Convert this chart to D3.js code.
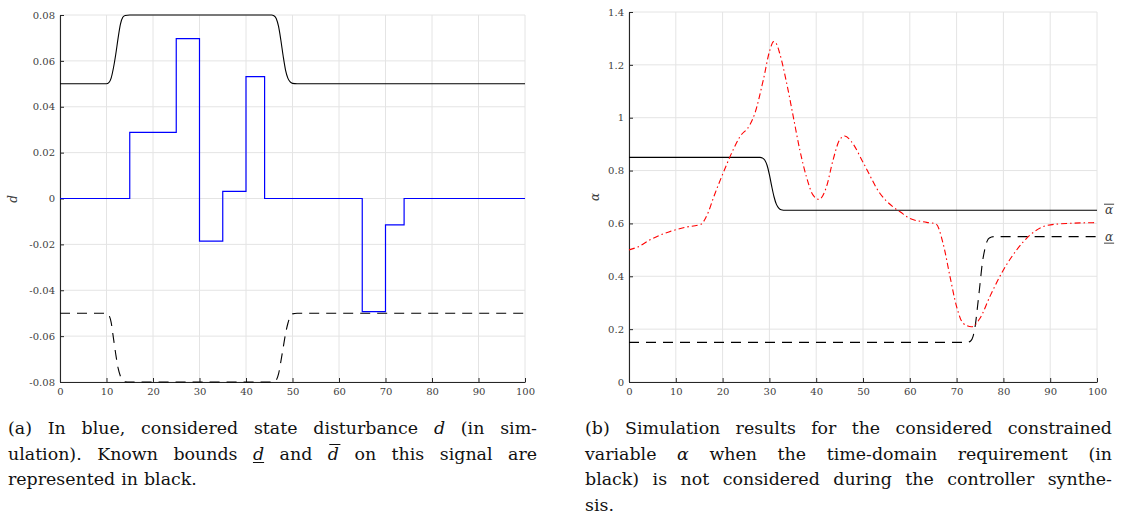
<!DOCTYPE html>
<html><head><meta charset="utf-8">
<script src="https://cdn.jsdelivr.net/npm/d3@7"></script>
<style>body{margin:0;background:#fff}svg{display:block}</style>
</head><body>
<svg id="c" width="1124" height="515"></svg>
<script>
// ---------- DATA ----------
// (a) disturbance d (blue, piecewise constant)
const dStepTime   = [0, 15, 25, 30, 35, 40, 44, 65, 70, 74, 100];
const dStepValue  = [0, 0.0288, 0.0697, -0.0186, 0.0031, 0.0531, 0, -0.0493, -0.0115, 0, 0];
// (a) upper bound d-bar (black solid)
const dUpperTime  = [0, 10, 10.5, 11, 11.5, 12, 12.5, 13, 13.5, 14, 15, 45.5, 46, 46.5, 47, 47.5, 48, 48.5, 49, 49.5, 50, 51, 100];
const dUpperValue = [0.05, 0.05, 0.0505, 0.0525, 0.057, 0.063, 0.07, 0.076, 0.079, 0.0798, 0.08, 0.08, 0.0797, 0.0785, 0.075, 0.069, 0.062, 0.056, 0.0525, 0.0508, 0.0502, 0.05, 0.05];
// (a) lower bound d-underbar (black dashed)
const dLowerTime  = [0, 10, 10.5, 11, 11.5, 12, 12.5, 13, 13.5, 14, 15, 46, 46.5, 47, 47.5, 48, 48.5, 49, 49.5, 50, 51, 100];
const dLowerValue = [-0.05, -0.05, -0.0508, -0.054, -0.061, -0.068, -0.074, -0.0775, -0.0793, -0.0799, -0.08, -0.08, -0.0792, -0.0765, -0.071, -0.065, -0.059, -0.0545, -0.0515, -0.0503, -0.05, -0.05];
// (b) alpha upper bound (black solid)
const aUpperTime  = [0, 28, 28.5, 29, 29.5, 30, 30.5, 31, 31.5, 32, 32.5, 33.5, 100];
const aUpperValue = [0.85, 0.85, 0.848, 0.84, 0.82, 0.785, 0.74, 0.7, 0.672, 0.658, 0.652, 0.65, 0.65];
// (b) alpha lower bound (black dashed)
const aLowerTime  = [0, 72.3, 73, 73.5, 74, 74.5, 75, 75.5, 76, 76.5, 77, 78, 100];
const aLowerValue = [0.15, 0.15, 0.155, 0.172, 0.215, 0.29, 0.37, 0.45, 0.5, 0.532, 0.545, 0.55, 0.55];
// (b) simulated alpha (red dash-dot)
const alphaTime  = [0, 2, 4.4, 6.5, 8.7, 11.9, 15.5, 16.2, 17, 18, 20.1, 21.9, 23.7, 25.8, 26.9, 28.7, 30.1, 30.9, 31.5, 32.2, 33.7, 35.1, 36.5, 37.9, 39.3, 40.6, 42.2, 43.6, 45, 46.1, 47.5, 50.2, 53.6, 56.4, 58, 60, 63.6, 65.6, 67.1, 68.6, 70, 71.4, 73.2, 75, 77.1, 80, 82.8, 85.7, 89.2, 93.5, 100];
const alphaValue = [0.5, 0.512, 0.537, 0.555, 0.569, 0.585, 0.598, 0.615, 0.645, 0.695, 0.79, 0.865, 0.928, 0.972, 1.017, 1.143, 1.256, 1.288, 1.28, 1.244, 1.13, 1.004, 0.878, 0.777, 0.708, 0.691, 0.739, 0.84, 0.916, 0.931, 0.91, 0.825, 0.714, 0.663, 0.643, 0.619, 0.604, 0.598, 0.525, 0.398, 0.285, 0.222, 0.209, 0.241, 0.323, 0.424, 0.499, 0.556, 0.592, 0.6, 0.603];
// ticks
const xTicks  = [0, 10, 20, 30, 40, 50, 60, 70, 80, 90, 100];
const dTicks  = [-0.08, -0.06, -0.04, -0.02, 0, 0.02, 0.04, 0.06, 0.08];
const aTicks  = [0, 0.2, 0.4, 0.6, 0.8, 1, 1.2, 1.4];
// captions
const captionA = [
  {j: true, w: [["(a)"], ["In"], ["blue,"], ["considered"], ["state"], ["disturbance"], [["d", 1]], ["(in"], ["sim-"]]},
  {j: true, w: [["ulation)."], ["Known"], ["bounds"], [["d", 1], "under"], ["and"], [["d", 1], "over"], ["on"], ["this"], ["signal"], ["are"]]},
  {j: false, w: [["represented"], ["in"], ["black."]]}
];
const captionB = [
  {j: true, w: [["(b)"], ["Simulation"], ["results"], ["for"], ["the"], ["considered"], ["constrained"]]},
  {j: true, w: [["variable"], [["α", 1]], ["when"], ["the"], ["time-domain"], ["requirement"], ["(in"]]},
  {j: true, w: [["black)"], ["is"], ["not"], ["considered"], ["during"], ["the"], ["controller"], ["synthe-"]]},
  {j: false, w: [["sis."]]}
];

// ---------- DRAW ----------
const svg = d3.select("#c");
const SERIF = "DejaVu Serif, serif";
const AXC = "#262626", GRID = "#e4e4e4", LBL = "#404040";
const zip = (t, v) => t.map((x, i) => [x, v[i]]);

function panel(x0, x1, y0, y1, yDomain, yTicks, yFmt) {
  const x = d3.scaleLinear().domain([0, 100]).range([x0, x1]);
  const y = d3.scaleLinear().domain(yDomain).range([y1, y0]);
  const g = svg.append("g");
  g.selectAll(".vg").data(xTicks).join("line")
    .attr("x1", d => x(d)).attr("x2", d => x(d)).attr("y1", y0).attr("y2", y1)
    .attr("stroke", GRID).attr("stroke-width", 1);
  g.selectAll(".hg").data(yTicks).join("line")
    .attr("y1", d => y(d)).attr("y2", d => y(d)).attr("x1", x0).attr("x2", x1)
    .attr("stroke", GRID).attr("stroke-width", 1);
  const ax = g.append("g").attr("transform", `translate(0,${y1})`)
    .call(d3.axisBottom(x).tickValues(xTicks).tickFormat(d3.format("d")).tickSizeInner(-4).tickSizeOuter(0).tickPadding(6));
  const ay = g.append("g").attr("transform", `translate(${x0},0)`)
    .call(d3.axisLeft(y).tickValues(yTicks).tickFormat(yFmt).tickSizeInner(-4).tickSizeOuter(0).tickPadding(5));
  [ax, ay].forEach(a => {
    a.select(".domain").attr("stroke", AXC).attr("stroke-width", 1.1);
    a.selectAll(".tick line").attr("stroke", AXC);
    a.selectAll("text").attr("font-family", SERIF).attr("font-size", 10).attr("fill", LBL);
  });
  return {x, y, g};
}

function line(p, pts, curve, color, width, dash) {
  const gen = d3.line().x(d => p.x(d[0])).y(d => p.y(d[1])).curve(curve);
  p.g.append("path").attr("d", gen(pts)).attr("fill", "none")
    .attr("stroke", color).attr("stroke-width", width)
    .attr("stroke-dasharray", dash || null);
}

// Panel (a)
const fmtD = v => v === 0 ? "0" : d3.format(".2f")(v).replace("−", "-");
const pa = panel(60, 525, 15, 382, [-0.08, 0.08], dTicks, fmtD);
line(pa, zip(dUpperTime, dUpperValue), d3.curveMonotoneX, "#000", 1.1);
line(pa, zip(dLowerTime, dLowerValue), d3.curveMonotoneX, "#000", 1.1, "10,7");
line(pa, zip(dStepTime, dStepValue), d3.curveStepAfter, "#0000ff", 1.2);
svg.append("text").attr("transform", "translate(17,199) rotate(-90)")
  .attr("text-anchor", "middle").attr("font-family", SERIF).attr("font-style", "italic")
  .attr("font-size", 12).attr("fill", LBL).text("d");

// Panel (b)
const fmtA = v => v === 0 ? "0" : d3.format("~g")(v);
const pb = panel(629, 1097, 12, 382, [0, 1.4], aTicks, fmtA);
line(pb, zip(aUpperTime, aUpperValue), d3.curveMonotoneX, "#000", 1.1);
line(pb, zip(aLowerTime, aLowerValue), d3.curveMonotoneX, "#000", 1.1, "10,7");
line(pb, zip(alphaTime, alphaValue), d3.curveMonotoneX, "#ff0000", 1.1, "6,3,1.5,3");
svg.append("text").attr("transform", "translate(599,197) rotate(-90)")
  .attr("text-anchor", "middle").attr("font-family", SERIF).attr("font-style", "italic")
  .attr("font-size", 12).attr("fill", LBL).text("α");

// bound labels on right
function alphaLabel(val, deco) {
  const yy = pb.y(val);
  const t = svg.append("text").attr("x", 1105).attr("y", yy + 4).attr("font-family", SERIF)
    .attr("font-style", "italic").attr("font-size", 12).attr("fill", LBL).text("α");
  const w = t.node().getComputedTextLength();
  const ly = deco === "over" ? yy - 6 : yy + 6.5;
  svg.append("line").attr("x1", 1104).attr("x2", 1104 + w + 2).attr("y1", ly).attr("y2", ly)
    .attr("stroke", LBL).attr("stroke-width", 1);
}
alphaLabel(aUpperValue[aUpperValue.length - 1], "over");
alphaLabel(aLowerValue[aLowerValue.length - 1], "under");

// captions (justified)
function caption(lines, x0, x1, yStart, dy) {
  lines.forEach((ln, i) => {
    const y = yStart + i * dy;
    const items = ln.w.map(w => {
      const t = svg.append("text").attr("y", y).attr("font-family", SERIF)
        .attr("font-size", 17.4).attr("fill", "#111");
      const parts = Array.isArray(w[0]) ? [w[0]] : [[w[0], 0]];
      parts.forEach(p => t.append("tspan").attr("font-style", p[1] ? "italic" : null).text(p[0]));
      return {t, w: t.node().getComputedTextLength(), deco: w[1]};
    });
    const total = d3.sum(items, d => d.w);
    const gap = ln.j ? (x1 - x0 - total) / (items.length - 1) : 6;
    let cx = x0;
    items.forEach(it => {
      it.t.attr("x", cx);
      if (it.deco === "under") {
        svg.append("line").attr("x1", cx).attr("x2", cx + it.w).attr("y1", y + 3).attr("y2", y + 3)
          .attr("stroke", "#111").attr("stroke-width", 1);
      } else if (it.deco === "over") {
        svg.append("line").attr("x1", cx + 1.5).attr("x2", cx + it.w + 1.5).attr("y1", y - 15).attr("y2", y - 15)
          .attr("stroke", "#111").attr("stroke-width", 1);
      }
      cx += it.w + gap;
    });
  });
}
caption(captionA, 8, 537, 434, 25.5);
caption(captionB, 585, 1112, 434, 25.5);
</script>
</body></html>
